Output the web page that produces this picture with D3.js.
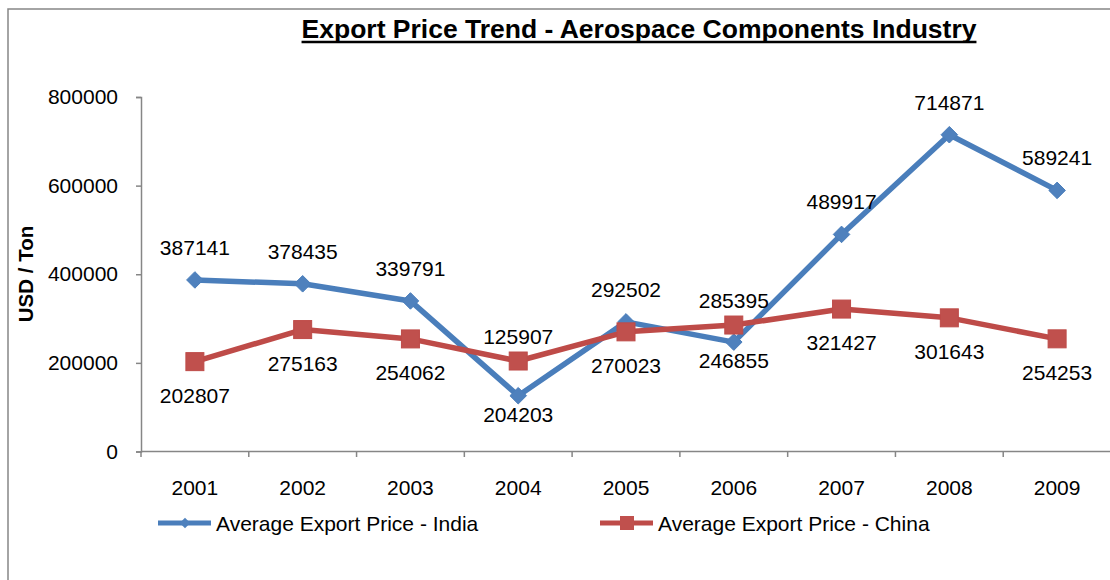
<!DOCTYPE html>
<html>
<head>
<meta charset="UTF-8">
<title>Export Price Trend</title>
<script src="https://d3js.org/d3.v7.min.js"></script>
<style>
  html, body { margin: 0; padding: 0; background: #fff; }
  text { font-family: "Liberation Sans", Arial, sans-serif; fill: #000; }
</style>
</head>
<body>
<div id="chart"></div>
<script>
// data
const years = ['2001','2002','2003','2004','2005','2006','2007','2008','2009']
const india = [387141, 378435, 339791, 125907, 292502, 246855, 489917, 714871, 589241]
const china = [202807, 275163, 254062, 204203, 270023, 285395, 321427, 301643, 254253]
// data labels as they sit in the picture (upper one / lower one for each year)
const topLabels = [387141, 378435, 339791, 125907, 292502, 285395, 489917, 714871, 589241]
const bottomLabels = [202807, 275163, 254062, 204203, 270023, 246855, 321427, 301643, 254253]
const yTicks = [0, 200000, 400000, 600000, 800000]
const seriesNames = ['Average Export Price - India', 'Average Export Price - China']

const W = 1110, H = 580
const fs = '21px'
const svg = d3.select('#chart').append('svg').attr('width', W).attr('height', H)

// outer chart border (runs off the right and bottom like the original)
svg.append('rect').attr('x', 8).attr('y', 9).attr('width', W + 20).attr('height', H + 20)
  .attr('fill', 'none').attr('stroke', '#868686').attr('stroke-width', 1.5)

const x = d3.scaleBand().domain(years).range([141, 1111])
const y = d3.scaleLinear().domain([0, 800000]).range([451.5, 97])
const cx = d => x(d) + x.bandwidth() / 2

const blue = '#4a7ebb', blueM = '#4f81bd'
const red = '#be4b48', redM = '#c0504d'

// title
const title = svg.append('text').attr('x', 639).attr('y', 37.5).attr('text-anchor', 'middle')
  .style('font-size', '26.5px').style('font-weight', 'bold')
  .text('Export Price Trend - Aerospace Components Industry')
const tw = title.node().getComputedTextLength()
svg.append('line').attr('x1', 639 - tw / 2).attr('x2', 639 + tw / 2).attr('y1', 42).attr('y2', 42)
  .attr('stroke', '#000').attr('stroke-width', 2.5)

// y axis
const yAxis = svg.append('g').attr('transform', 'translate(141,0)')
  .call(d3.axisLeft(y).tickValues(yTicks).tickSize(5).tickPadding(18).tickFormat(d3.format('d')))
yAxis.select('.domain').attr('stroke', '#868686').attr('stroke-width', 1.5)
yAxis.selectAll('.tick line').attr('stroke', '#868686').attr('stroke-width', 1.5)
yAxis.selectAll('.tick text').style('font-size', fs).style('font-family', '"Liberation Sans", Arial, sans-serif')

svg.append('text').attr('transform', 'translate(33,274) rotate(-90)').attr('text-anchor', 'middle')
  .style('font-size', '20.5px').style('font-weight', 'bold').text('USD / Ton')

// x axis: line, ticks on band edges, labels at band centres
svg.append('line').attr('x1', 141).attr('x2', 1111).attr('y1', y(0)).attr('y2', y(0))
  .attr('stroke', '#868686').attr('stroke-width', 1.5)
const edges = years.map(d => x(d)).concat([x.range()[1]])
svg.append('g').selectAll('line').data(edges).enter().append('line')
  .attr('x1', d => d).attr('x2', d => d).attr('y1', y(0)).attr('y2', y(0) + 5.5)
  .attr('stroke', '#868686').attr('stroke-width', 1.5)
svg.append('g').selectAll('text').data(years).enter().append('text')
  .attr('x', d => cx(d)).attr('y', 495).attr('text-anchor', 'middle')
  .style('font-size', fs).text(d => d)

// lines
const line = d3.line().x((d, i) => cx(years[i])).y(d => y(d))
svg.append('path').datum(india).attr('d', line).attr('fill', 'none')
  .attr('stroke', blue).attr('stroke-width', 5.5).attr('stroke-linejoin', 'round')
svg.append('path').datum(china).attr('d', line).attr('fill', 'none')
  .attr('stroke', red).attr('stroke-width', 5.5).attr('stroke-linejoin', 'round')

// markers
const dia = d3.symbol().type(d3.symbolDiamond2).size(175)
svg.append('g').selectAll('path').data(india).enter().append('path')
  .attr('d', dia).attr('transform', (d, i) => `translate(${cx(years[i])},${y(d)})`)
  .attr('fill', blueM).attr('stroke', blue).attr('stroke-width', 1)
svg.append('g').selectAll('rect').data(china).enter().append('rect')
  .attr('x', (d, i) => cx(years[i]) - 9).attr('y', d => y(d) - 9)
  .attr('width', 18).attr('height', 18)
  .attr('fill', redM).attr('stroke', red).attr('stroke-width', 1)

// data labels
const crossed = i => india[i] < china[i]
const upperY = i => y(Math.max(india[i], china[i]))
const lowerY = i => y(Math.min(india[i], china[i]))
svg.append('g').selectAll('text').data(topLabels).enter().append('text')
  .attr('x', (d, i) => cx(years[i])).attr('y', (d, i) => upperY(i) - (crossed(i) ? 17 : 25))
  .attr('text-anchor', 'middle').style('font-size', fs).text(d => d)
svg.append('g').selectAll('text').data(bottomLabels).enter().append('text')
  .attr('x', (d, i) => cx(years[i])).attr('y', (d, i) => lowerY(i) + (crossed(i) ? 26 : 41))
  .attr('text-anchor', 'middle').style('font-size', fs).text(d => d)

// legend
const legend = svg.append('g')
const legItems = [
  { name: seriesNames[0], x: 158, color: blue, fill: blueM, mark: 'diamond' },
  { name: seriesNames[1], x: 600, color: red, fill: redM, mark: 'square' }
]
legItems.forEach(it => {
  const g = legend.append('g').attr('transform', `translate(${it.x},523)`)
  g.append('line').attr('x1', 0).attr('x2', 53).attr('stroke', it.color).attr('stroke-width', 5)
  if (it.mark === 'diamond') {
    g.append('path').attr('d', d3.symbol().type(d3.symbolDiamond2).size(70)())
      .attr('transform', 'translate(27,0)').attr('fill', it.fill)
  } else {
    g.append('rect').attr('x', 20).attr('y', -7).attr('width', 14).attr('height', 14).attr('fill', it.fill)
  }
  g.append('text').attr('x', 58).attr('y', 7.5).style('font-size', fs).text(it.name)
})
</script>
</body>
</html>
